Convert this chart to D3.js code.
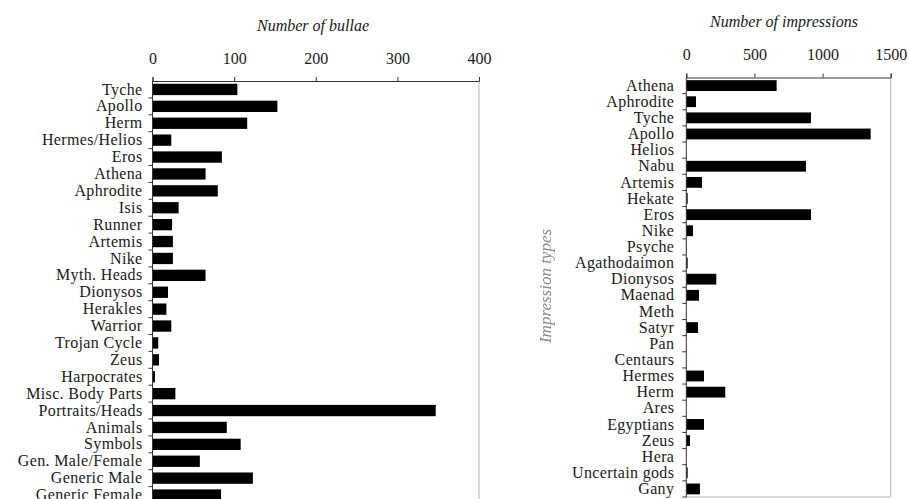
<!DOCTYPE html>
<html lang="en">
<head>
<meta charset="UTF-8" />
<title>Bullae and impressions by type</title>
<script src="https://d3js.org/d3.v7.min.js"></script>
<style>
    body { margin: 0; background: #fff; }
    svg { display: block; }
    text { font-family: "Liberation Serif", "DejaVu Serif", serif; fill: #1a1a1a; }
    .domain { stroke: #333; }
</style>
</head>
<body>
<svg id="chart" width="909" height="499"></svg>
<script>
    // bullae per type (left panel)
    const bullaeTypes = ["Tyche", "Apollo", "Herm", "Hermes/Helios", "Eros", "Athena", "Aphrodite",
        "Isis", "Runner", "Artemis", "Nike", "Myth. Heads", "Dionysos", "Herakles", "Warrior",
        "Trojan Cycle", "Zeus", "Harpocrates", "Misc. Body Parts", "Portraits/Heads", "Animals",
        "Symbols", "Gen. Male/Female", "Generic Male", "Generic Female"];
    const bullaeCounts = [104, 153, 116, 23, 85, 65, 80, 32, 24, 25, 25, 65, 19, 17, 23,
        7, 8, 3, 28, 347, 91, 108, 58, 123, 84];
    const bullaeTicks = [0, 100, 200, 300, 400];

    // impressions per type (right panel)
    const impressionTypes = ["Athena", "Aphrodite", "Tyche", "Apollo", "Helios", "Nabu", "Artemis",
        "Hekate", "Eros", "Nike", "Psyche", "Agathodaimon", "Dionysos", "Maenad", "Meth", "Satyr",
        "Pan", "Centaurs", "Hermes", "Herm", "Ares", "Egyptians", "Zeus", "Hera", "Uncertain gods", "Gany"];
    const impressionCounts = [663, 71, 915, 1353, 0, 878, 115, 10, 915, 49, 2, 10, 220, 93, 0, 86,
        0, 1, 130, 286, 0, 130, 27, 0, 10, 100];
    const impressionTicks = [0, 500, 1000, 1500];

    const svg = d3.select("#chart");

    const defs = svg.append("defs");
    defs.append("filter").attr("id", "soft")
        .append("feGaussianBlur").attr("stdDeviation", 0.7);

    function panel(opts) {
        const x = d3.scaleLinear().domain(opts.domain).range([opts.left, opts.right]);
        const y = d3.scaleBand().domain(opts.cats).range([opts.top, opts.bottom])
            .paddingInner(0.33).paddingOuter(0.165);
        const g = svg.append("g");

        // frame (right + bottom in light gray)
        g.append("line")
            .attr("x1", opts.right).attr("x2", opts.right)
            .attr("y1", opts.top).attr("y2", opts.frameBottom)
            .attr("stroke", "#b5b5b5");
        if (opts.frameBottom < 499) {
            g.append("line")
                .attr("x1", opts.left).attr("x2", opts.right)
                .attr("y1", opts.frameBottom).attr("y2", opts.frameBottom)
                .attr("stroke", "#b5b5b5");
        }

        // bars
        g.selectAll("rect.bar")
            .data(opts.cats)
            .join("rect")
            .attr("class", "bar")
            .attr("x", x(0))
            .attr("y", d => y(d))
            .attr("width", (d, i) => x(opts.values[i]) - x(0))
            .attr("height", y.bandwidth())
            .attr("fill", "#000");

        // top axis
        const xAxis = g.append("g")
            .attr("transform", `translate(0,${opts.top})`)
            .call(d3.axisTop(x).tickValues(opts.ticks).tickFormat(d3.format("d"))
                .tickSize(4).tickPadding(opts.tickPad).tickSizeOuter(4));
        xAxis.selectAll("text").attr("font-size", 16).style("font-family", "Liberation Serif, serif");
        xAxis.selectAll("line").attr("stroke", "#333");

        // left axis, labels only
        const yAxis = g.append("g")
            .attr("transform", `translate(${opts.left},0)`)
            .call(d3.axisLeft(y).tickSize(0).tickPadding(opts.labelPad));
        yAxis.select(".domain").remove();
        yAxis.selectAll("text")
            .attr("font-size", 16)
            .attr("letter-spacing", 0.35)
            .style("font-family", "Liberation Serif, serif");

        g.append("line")
            .attr("x1", opts.left).attr("x2", opts.left)
            .attr("y1", opts.top).attr("y2", opts.frameBottom)
            .attr("stroke", "#333");

        // ticks sit between categories
        const step = y.step();
        const bounds = opts.cats.map(d => y(d) + y.bandwidth() / 2 + step / 2);
        g.selectAll("line.btick")
            .data(bounds)
            .join("line")
            .attr("class", "btick")
            .attr("x1", opts.left - 4).attr("x2", opts.left)
            .attr("y1", d => d).attr("y2", d => d)
            .attr("stroke", "#333");

        // title
        g.append("text")
            .attr("x", opts.titleX)
            .attr("y", opts.titleY)
            .attr("text-anchor", "middle")
            .attr("font-size", 16)
            .attr("font-style", "italic")
            .text(opts.title);
        return g;
    }

    panel({
        cats: bullaeTypes, values: bullaeCounts, ticks: bullaeTicks, domain: [0, 400],
        left: 152.5, right: 479, top: 81, bottom: 81 + 25 * 16.9, frameBottom: 520,
        tickPad: 13, labelPad: 10, title: "Number of bullae", titleX: 313, titleY: 31
    });

    panel({
        cats: impressionTypes, values: impressionCounts, ticks: impressionTicks, domain: [0, 1500],
        left: 686.3, right: 890.7, top: 77.5, bottom: 497, frameBottom: 497,
        tickPad: 14, labelPad: 12, title: "Number of impressions", titleX: 784, titleY: 27
    });

    // faint rotated axis label
    svg.append("text")
        .attr("transform", "translate(551,286) rotate(-90)")
        .attr("text-anchor", "middle")
        .attr("font-size", 17)
        .attr("font-style", "italic")
        .attr("filter", "url(#soft)")
        .style("fill", "#8a8a8a")
        .text("Impression types");
</script>
</body>
</html>
